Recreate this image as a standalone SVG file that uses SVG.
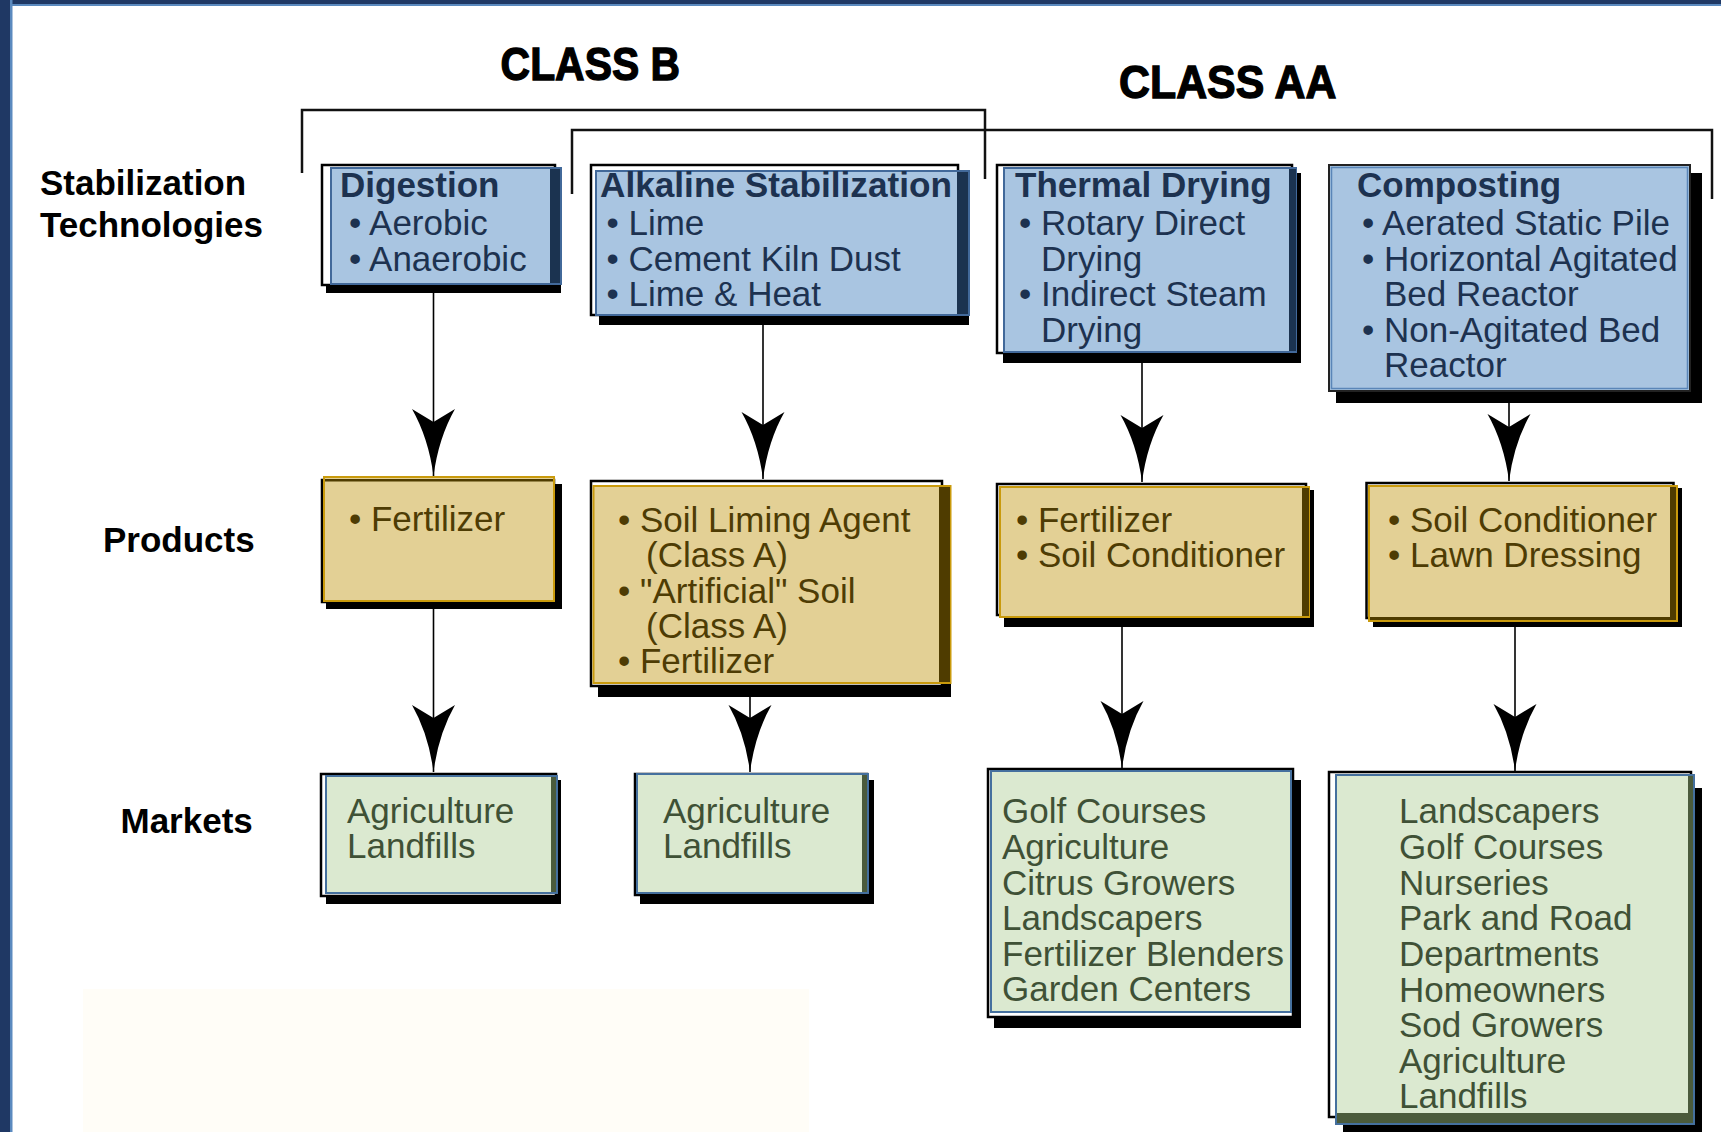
<svg xmlns="http://www.w3.org/2000/svg" width="1721" height="1132" viewBox="0 0 1721 1132">
<style>
text{font-family:"Liberation Sans",Arial,sans-serif;font-size:35px}
.lab{font-weight:bold;fill:#000}
.cls{font-weight:bold;font-size:46px;fill:#000;stroke:#000;stroke-width:1.3}
.tt{fill:#1d3250}
.tb{fill:#1d3250;font-weight:bold}
.pt{fill:#4e3c04}
.mt{fill:#3f5136}
.sh{fill:#000}
.ol{fill:#fff;stroke:#000;stroke-width:2.5}
.blue{fill:#a9c5e1;stroke:#42699a;stroke-width:2}
.bstrip{fill:#1b3350}
.tan{fill:#e3d095;stroke:#c99a0c;stroke-width:2}
.tstrip{fill:#4f3c00}
.green{fill:#dbe9d0;stroke:#45709e;stroke-width:2}
.gstrip{fill:#4b5b3c}
.br{fill:none;stroke:#111;stroke-width:2.5}
.con{fill:none;stroke:#000;stroke-width:1.6;marker-end:url(#arr)}
</style>
<defs>
<marker id="arr" markerUnits="userSpaceOnUse" orient="auto" refX="0" refY="0" markerWidth="70" markerHeight="50" viewBox="-70 -25 70 50" overflow="visible">
<path d="M0,0 Q-38,-5 -67,-21.5 L-54,0 L-67,21.5 Q-38,5 0,0 Z" fill="#000"/>
</marker>
</defs>
<rect x="0" y="0" width="1721" height="1132" fill="#fff"/>
<g id="frame">
<rect x="0" y="0" width="1721" height="6" fill="#5b8abf"/>
<rect x="0" y="0" width="1721" height="4" fill="#1f3864"/>
<rect x="0" y="0" width="12.5" height="1132" fill="#5b8abf"/>
<rect x="0" y="0" width="10" height="1132" fill="#1f3864"/>
</g>
<rect id="faint-panel" x="83" y="989" width="726" height="143" fill="#fffdf7"/>
<g id="titles">
<text class="cls" x="500.6" y="80" textLength="179.5" lengthAdjust="spacingAndGlyphs">CLASS B</text>
<text class="cls" x="1119" y="98" textLength="217.5" lengthAdjust="spacingAndGlyphs">CLASS AA</text>
<path class="br" d="M302,173 V110 H985 V179"/>
<path class="br" d="M572,194 V130 H1712 V199"/>
</g>
<g id="row-labels">
<text class="lab" x="40" y="195">Stabilization<tspan x="40" y="237">Technologies</tspan></text>
<text class="lab" x="103" y="552">Products</text>
<text class="lab" x="120.5" y="833">Markets</text>
</g>
<g id="connectors">
<path class="con" d="M433.5,293 V476"/>
<path class="con" d="M763,325 V479"/>
<path class="con" d="M1142,363 V482"/>
<path class="con" d="M1509,403 V481"/>
<path class="con" d="M433.5,609 V772"/>
<path class="con" d="M750,697 V772"/>
<path class="con" d="M1122,627 V768"/>
<path class="con" d="M1515,627 V771"/>
</g>
<g id="digestion">
<rect class="sh" x="326" y="172" width="235" height="121"/>
<rect class="ol" x="322" y="165" width="233" height="120"/>
<rect class="blue" x="331" y="168" width="230" height="116"/>
<rect class="bstrip" x="550" y="169" width="10" height="114"/>
<text class="tt" x="340" y="197"><tspan class="tb">Digestion</tspan><tspan x="349" y="235">• Aerobic</tspan><tspan x="349" y="271">• Anaerobic</tspan></text>
</g>
<g id="alkaline">
<rect class="sh" x="599" y="176" width="370" height="149"/>
<rect class="ol" x="591" y="165" width="367" height="150"/>
<rect class="blue" x="596" y="171" width="373" height="144"/>
<rect class="bstrip" x="957" y="172" width="11" height="142"/>
<text class="tt" x="600" y="197"><tspan class="tb" textLength="352" lengthAdjust="spacingAndGlyphs">Alkaline Stabilization</tspan><tspan x="606.5" y="235">• Lime</tspan><tspan x="606.5" y="271">• Cement Kiln Dust</tspan><tspan x="606.5" y="306">• Lime &amp; Heat</tspan></text>
</g>
<g id="thermal">
<rect class="sh" x="1003" y="173" width="298" height="190"/>
<rect class="ol" x="997" y="165" width="295" height="188"/>
<rect class="blue" x="1004" y="168" width="292" height="184"/>
<rect class="bstrip" x="1289" y="169" width="7" height="182"/>
<text class="tt" x="1015" y="197"><tspan class="tb">Thermal Drying</tspan><tspan x="1019" y="235">• Rotary Direct</tspan><tspan x="1041" y="271">Drying</tspan><tspan x="1019" y="306">• Indirect Steam</tspan><tspan x="1041" y="342">Drying</tspan></text>
</g>
<g id="composting">
<rect class="sh" x="1336" y="173" width="366" height="230"/>
<rect x="1329" y="165" width="361" height="226" fill="#a9c5e1" stroke="#222" stroke-width="2"/>
<rect x="1331.5" y="167.5" width="356" height="221" fill="#a9c5e1" stroke="#5a86b8" stroke-width="1.5"/>
<text class="tt" x="1357" y="197"><tspan class="tb">Composting</tspan><tspan x="1362" y="235">• Aerated Static Pile</tspan><tspan x="1362" y="271">• Horizontal Agitated</tspan><tspan x="1384" y="306">Bed Reactor</tspan><tspan x="1362" y="342">• Non-Agitated Bed</tspan><tspan x="1384" y="377">Reactor</tspan></text>
</g>
<g id="product-digestion">
<rect class="sh" x="326" y="484" width="236" height="125"/>
<rect class="ol" x="322" y="480" width="232" height="122"/>
<rect class="tan" x="324" y="477" width="230" height="124"/>
<rect class="tstrip" x="325" y="479" width="228" height="2.5"/>
<text class="pt" x="349" y="531">• Fertilizer</text>
</g>
<g id="product-alkaline">
<rect class="sh" x="598" y="490" width="353" height="207"/>
<rect class="ol" x="591" y="481" width="351" height="205"/>
<rect class="tan" x="593.5" y="486" width="357" height="197"/>
<rect class="tstrip" x="939" y="487" width="11" height="195"/>
<text class="pt" x="618" y="532">• Soil Liming Agent<tspan x="646" y="567">(Class A)</tspan><tspan x="618" y="603">• "Artificial" Soil</tspan><tspan x="646" y="638">(Class A)</tspan><tspan x="618" y="673">• Fertilizer</tspan></text>
</g>
<g id="product-thermal">
<rect class="sh" x="1004" y="490" width="310" height="137"/>
<rect class="ol" x="997" y="484" width="309" height="131"/>
<rect class="tan" x="1000" y="487" width="309" height="130"/>
<rect class="tstrip" x="1302" y="488" width="7" height="128"/>
<text class="pt" x="1016" y="532">• Fertilizer<tspan x="1016" y="567">• Soil Conditioner</tspan></text>
</g>
<g id="product-composting">
<rect class="sh" x="1373" y="488" width="309" height="139"/>
<rect class="ol" x="1366.5" y="483" width="307" height="135"/>
<rect class="tan" x="1369" y="486" width="308" height="135"/>
<rect class="tstrip" x="1670" y="487" width="6" height="133"/>
<rect class="tstrip" x="1370" y="617" width="306" height="3"/>
<text class="pt" x="1388" y="532">• Soil Conditioner<tspan x="1388" y="567">• Lawn Dressing</tspan></text>
</g>
<g id="market-digestion">
<rect class="sh" x="326" y="780" width="235" height="124"/>
<rect class="ol" x="321" y="774" width="235" height="122"/>
<rect class="green" x="326" y="776" width="231" height="117"/>
<rect class="gstrip" x="551" y="777" width="5" height="115"/>
<text class="mt" x="347" y="823">Agriculture<tspan x="347" y="858">Landfills</tspan></text>
</g>
<g id="market-alkaline">
<rect class="sh" x="640" y="780" width="234" height="124"/>
<rect class="ol" x="635" y="774" width="232" height="121"/>
<rect class="green" x="637" y="774" width="231" height="119"/>
<rect class="gstrip" x="862" y="775" width="5" height="117"/>
<text class="mt" x="663" y="823">Agriculture<tspan x="663" y="858">Landfills</tspan></text>
</g>
<g id="market-thermal">
<rect class="sh" x="994" y="780" width="307" height="248"/>
<rect class="ol" x="988" y="769" width="305" height="248"/>
<rect class="green" x="991" y="771" width="300" height="241"/>
<text class="mt" x="1002" y="823">Golf Courses<tspan x="1002" y="859">Agriculture</tspan><tspan x="1002" y="895">Citrus Growers</tspan><tspan x="1002" y="930">Landscapers</tspan><tspan x="1002" y="966">Fertilizer Blenders</tspan><tspan x="1002" y="1001">Garden Centers</tspan></text>
</g>
<g id="market-composting">
<rect class="sh" x="1343" y="788" width="359" height="344"/>
<rect class="ol" x="1329" y="772" width="362" height="345"/>
<rect class="green" x="1336" y="775" width="358" height="349"/>
<rect class="gstrip" x="1337" y="1113" width="356" height="10"/>
<rect class="gstrip" x="1688" y="776" width="5" height="347"/>
<text class="mt" x="1399" y="823">Landscapers<tspan x="1399" y="859">Golf Courses</tspan><tspan x="1399" y="895">Nurseries</tspan><tspan x="1399" y="930">Park and Road</tspan><tspan x="1399" y="966">Departments</tspan><tspan x="1399" y="1002">Homeowners</tspan><tspan x="1399" y="1037">Sod Growers</tspan><tspan x="1399" y="1073">Agriculture</tspan><tspan x="1399" y="1108">Landfills</tspan></text>
</g>
</svg>
